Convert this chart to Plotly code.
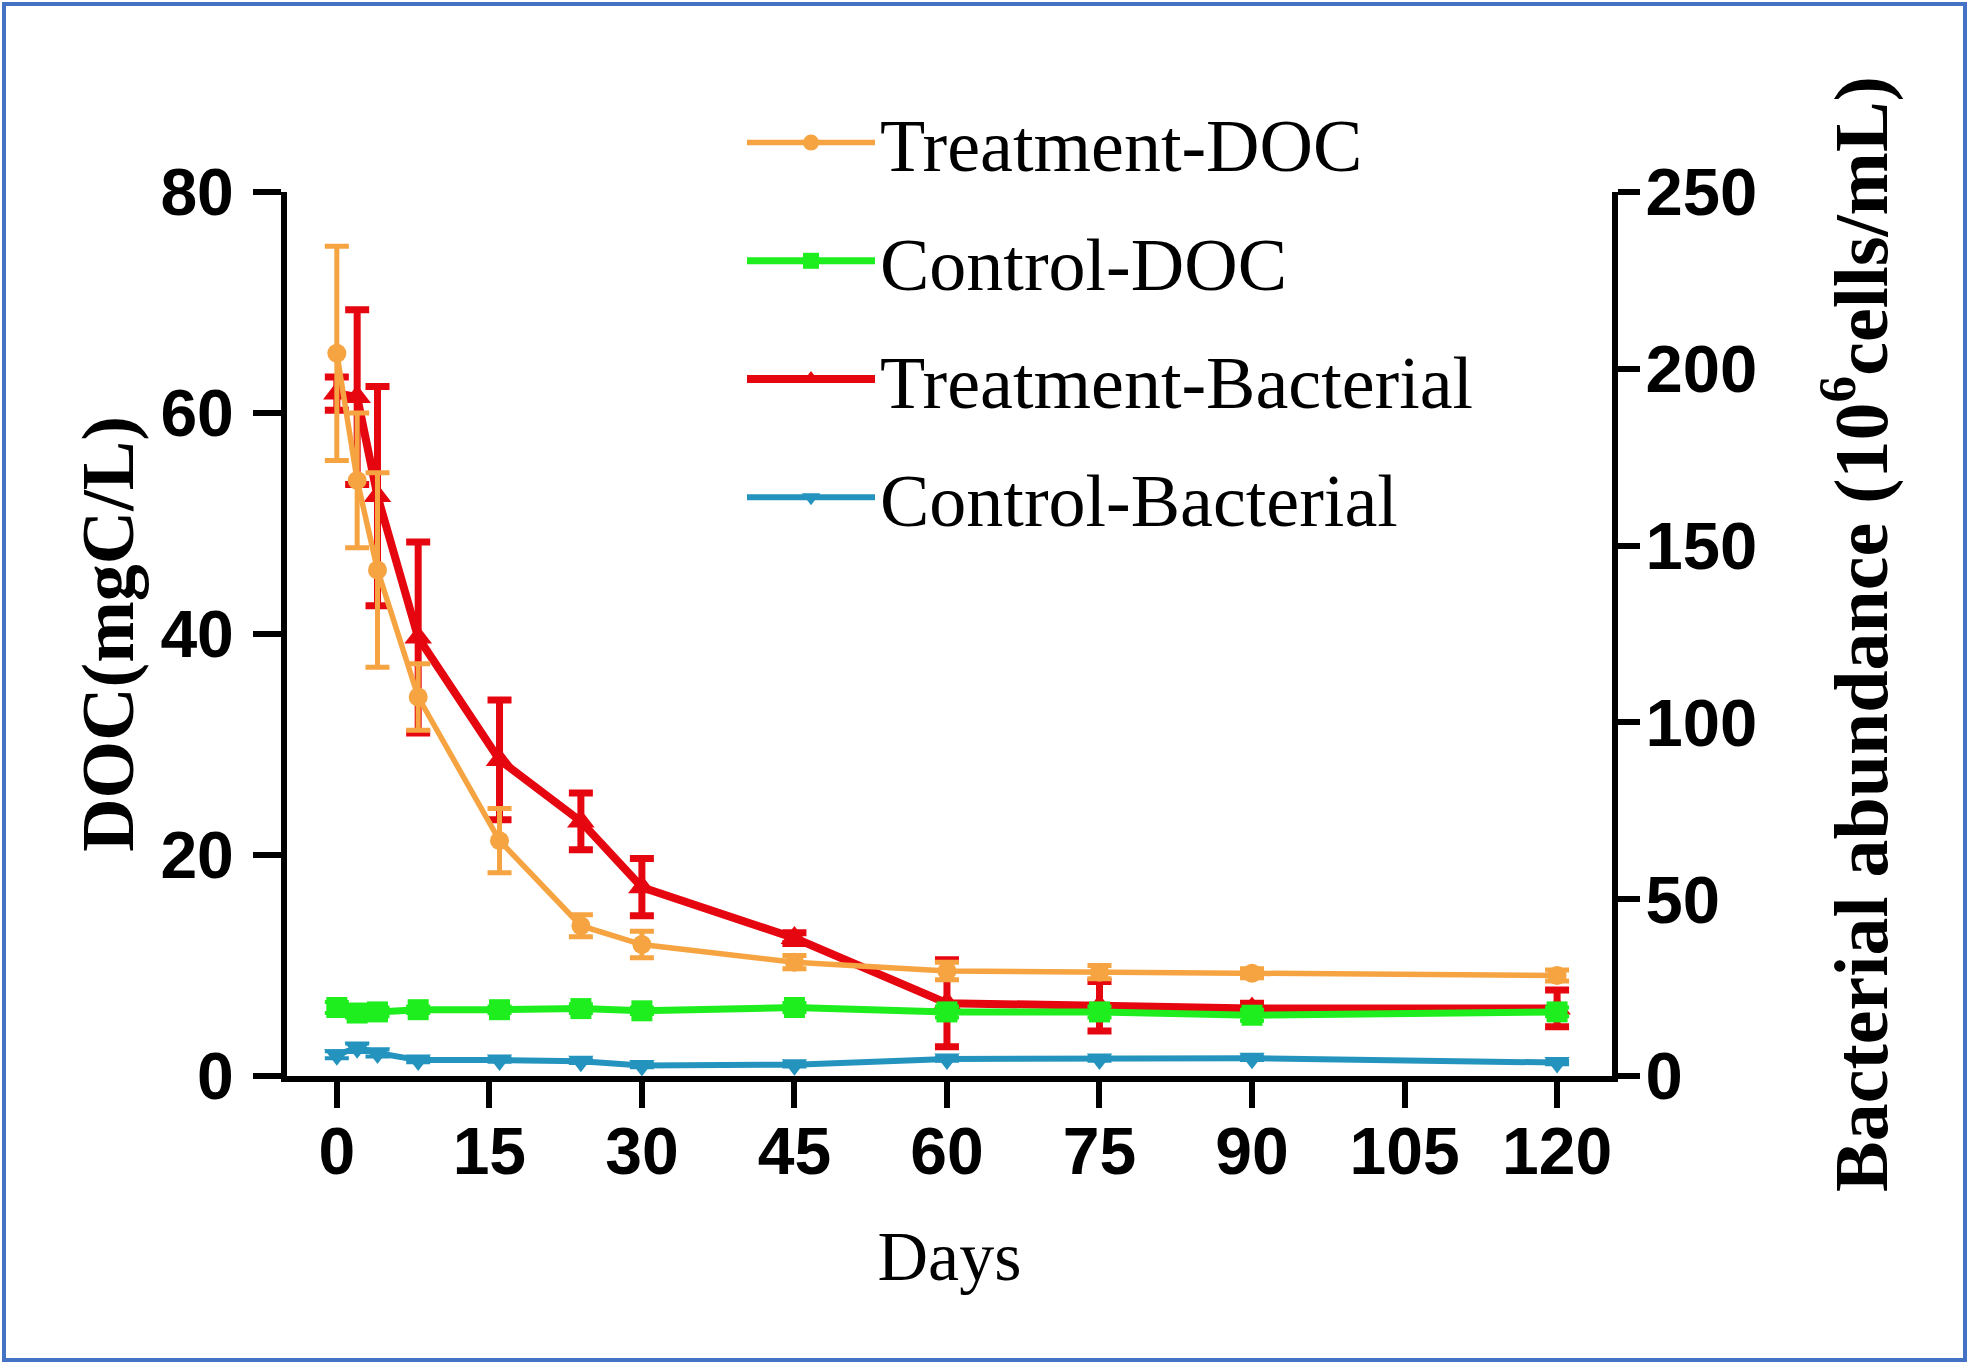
import plotly.graph_objects as go

# sampling days
days = [0, 2, 4, 8, 16, 24, 30, 45, 60, 75, 90, 120]

# DOC (mgC/L), left axis
treat_doc = [65.4, 53.9, 45.8, 34.3, 21.3, 13.6, 11.9, 10.3, 9.5, 9.4, 9.3, 9.1]
treat_doc_sd = [9.7, 6.1, 8.8, 3.0, 2.9, 1.0, 1.2, 0.6, 0.8, 0.6, 0.4, 0.5]
ctrl_doc = [6.2, 5.7, 5.8, 6.0, 6.0, 6.1, 5.9, 6.2, 5.8, 5.8, 5.5, 5.8]
ctrl_doc_sd = [0.5, 0.4, 0.4, 0.3, 0.3, 0.4, 0.3, 0.4, 0.5, 0.5, 0.5, 0.4]

# bacterial abundance (10^6 cells/mL), right axis
treat_bac = [193, 192, 164, 124, 89.4, 72, 53.4, 39, 20.6, 19.7, 19.1, 19.1]
treat_bac_sd = [4.7, 24.7, 31, 27, 16.9, 8, 8.1, 1.5, 12.3, 7.0, 1.5, 5.2]
ctrl_bac = [6.0, 8.0, 6.5, 4.5, 4.5, 4.2, 3.0, 3.2, 4.8, 4.8, 5.0, 3.8]
ctrl_bac_sd = [1.0, 1.2, 1.0, 0.6, 0.5, 0.5, 0.5, 0.5, 0.5, 0.5, 0.5, 0.5]

x_ticks = [0, 15, 30, 45, 60, 75, 90, 105, 120]
doc_ticks = [0, 20, 40, 60, 80]
bac_ticks = [0, 50, 100, 150, 200, 250]

ORANGE = "#F6A442"
GREEN = "#1EEE1E"
RED = "#E5060F"
BLUE = "#2494BE"

W, H = 1969, 1364
L, R, T, B = 287, 357, 192, 288
PW, PH = W - L - R, H - T - B

serif = "Liberation Serif"
sans = "Liberation Sans"


def series(name, y, sd, color, symbol, msize, lw, ew, axis):
    return go.Scatter(
        x=days, y=y, name=name, yaxis=axis, legendgroup=name,
        mode="lines+markers",
        line=dict(color=color, width=lw),
        marker=dict(color=color, symbol=symbol, size=msize),
        error_y=dict(type="data", array=sd, visible=True,
                     color=color, thickness=ew, width=12),
    )


fig = go.Figure()
# DOC series go on the overlaying left axis so they are drawn on top
fig.add_trace(series("Treatment-DOC", treat_doc, treat_doc_sd, ORANGE,
                     "circle", 19, 5.5, 5, "y2"))
fig.add_trace(series("Control-DOC", ctrl_doc, ctrl_doc_sd, GREEN,
                     "square", 21, 7, 4, "y2"))
fig.add_trace(series("Treatment-Bacterial", treat_bac, treat_bac_sd, RED,
                     "triangle-up", 24, 8, 7, "y"))
fig.add_trace(series("Control-Bacterial", ctrl_bac, ctrl_bac_sd, BLUE,
                     "triangle-down", 22, 6, 4, "y"))

axis_common = dict(showline=True, linecolor="black", linewidth=6,
                   ticks="outside", tickcolor="black", tickwidth=6,
                   showgrid=False, zeroline=False)

fig.update_layout(
    width=W, height=H,
    margin=dict(l=L, r=R, t=T, b=B, autoexpand=False),
    paper_bgcolor="white", plot_bgcolor="white",
    xaxis=dict(range=[-4.9, 125.4], tickvals=x_ticks, ticklen=26,
               ticklabelstandoff=-13,
               tickfont=dict(family=sans, size=66, color="black", weight="bold"),
               title=dict(text="Days", standoff=46,
                          font=dict(family=serif, size=70, color="black")),
               **axis_common),
    yaxis=dict(range=[0, 250], tickvals=bac_ticks, side="right", ticklen=22,
               ticklabelstandoff=-8,
               tickfont=dict(family=sans, size=67, color="black", weight="bold"),
               title=dict(text="Bacterial abundance (10<sup>6</sup>cells/mL)", standoff=80,
                          font=dict(family=serif, size=76, color="black", weight="bold")),
               **axis_common),
    yaxis2=dict(range=[0, 80], tickvals=doc_ticks, side="left", overlaying="y",
                anchor="x", ticklen=28, ticklabelstandoff=6,
                tickfont=dict(family=sans, size=66, color="black", weight="bold"),
                title=dict(text="DOC(mgC/L)", standoff=4,
                           font=dict(family=serif, size=74, color="black", weight="bold")),
                **axis_common),
    legend=dict(x=(742 - L) / PW, y=1 + (T - 88) / PH,
                xanchor="left", yanchor="top", bgcolor="rgba(0,0,0,0)",
                font=dict(family=serif, size=74, color="black"),
                itemwidth=128, tracegroupgap=19),
    showlegend=True,
    shapes=[dict(type="rect", xref="paper", yref="paper",
                 x0=(4 - L) / PW, x1=(W - 4 - L) / PW,
                 y0=(T + PH - (H - 4)) / PH, y1=(T + PH - 4) / PH,
                 line=dict(color="#4472C4", width=4), layer="below")],
)

# the page body has a default margin; drop it so the figure sits at 0,0
fig.write_html("out.html", config={"displayModeBar": False},
               post_script="document.body.style.margin='0';")
